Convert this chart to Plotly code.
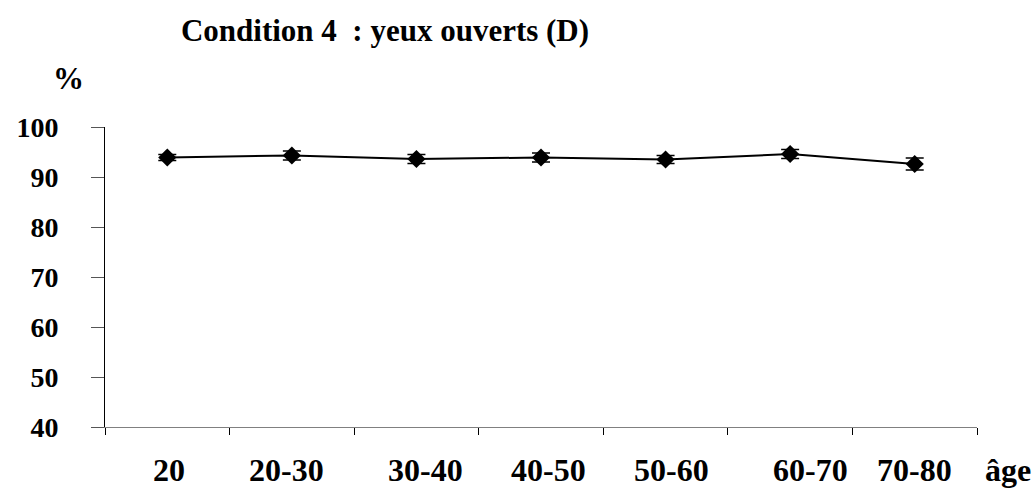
import plotly.graph_objects as go

# Age groups and mean percentage scores (condition 4, eyes open)
categories = ["20", "20-30", "30-40", "40-50", "50-60", "60-70", "70-80"]
scores = [93.9, 94.3, 93.6, 93.9, 93.5, 94.6, 92.6]
errors = [0.6, 0.9, 0.9, 0.9, 0.8, 0.9, 1.2]
# Horizontal placement of the category labels (in category units)
label_pos = [0.51, 1.46, 2.57, 3.56, 4.55, 5.66, 6.50]
y_ticks = [40, 50, 60, 70, 80, 90, 100]

FONT = "Liberation Serif"

x_centers = [i + 0.5 for i in range(len(categories))]

fig = go.Figure()
fig.add_trace(go.Scatter(
    x=x_centers,
    y=scores,
    mode="lines+markers",
    line=dict(color="black", width=2),
    marker=dict(symbol="diamond", size=14, color="black"),
    error_y=dict(type="data", array=errors, visible=True,
                 color="black", thickness=1.5, width=9),
    showlegend=False,
))

annotations = []
for name, xp in zip(categories, label_pos):
    annotations.append(dict(
        x=xp, y=0, xref="x", yref="paper", text=name, showarrow=False,
        xanchor="center", yanchor="middle", yshift=-43,
        font=dict(family=FONT, size=32, color="black"),
    ))
annotations.append(dict(
    x=1, y=0, xref="paper", yref="paper", text="âge", showarrow=False,
    xanchor="left", yanchor="middle", xshift=6, yshift=-43,
    font=dict(family=FONT, size=32, color="black"),
))
annotations.append(dict(
    x=0, y=1, xref="paper", yref="paper", text="%", showarrow=False,
    xanchor="center", yanchor="middle", xshift=-37, yshift=49,
    font=dict(family=FONT, size=31, color="black"),
))

fig.update_layout(
    width=1036, height=491,
    margin=dict(l=105, r=59, t=127, b=64),
    paper_bgcolor="white", plot_bgcolor="white",
    font=dict(family=FONT),
    title=dict(
        text="<b>Condition 4  : yeux ouverts (D)</b>",
        x=385 / 1036, xanchor="center", y=1 - 30 / 491, yanchor="middle",
        font=dict(family=FONT, size=31, color="black"),
    ),
    xaxis=dict(
        range=[0, 7], tickmode="array", tickvals=list(range(8)),
        showticklabels=False, ticks="outside", ticklen=7,
        tickcolor="black", showline=True, linecolor="#808080",
        linewidth=1, showgrid=False, zeroline=False, fixedrange=True,
    ),
    yaxis=dict(
        range=[40, 100], tickmode="array", tickvals=y_ticks,
        ticktext=[f"<b>{v}</b>" for v in y_ticks],
        ticks="outside", ticklen=13, tickcolor="#555555",
        ticklabelstandoff=27,
        tickfont=dict(family=FONT, size=28, color="black"),
        showline=True, linecolor="black", linewidth=1,
        showgrid=False, zeroline=False, fixedrange=True,
    ),
    annotations=[dict(a, text=f"<b>{a['text']}</b>") for a in annotations],
)

fig.write_html("out.html")
